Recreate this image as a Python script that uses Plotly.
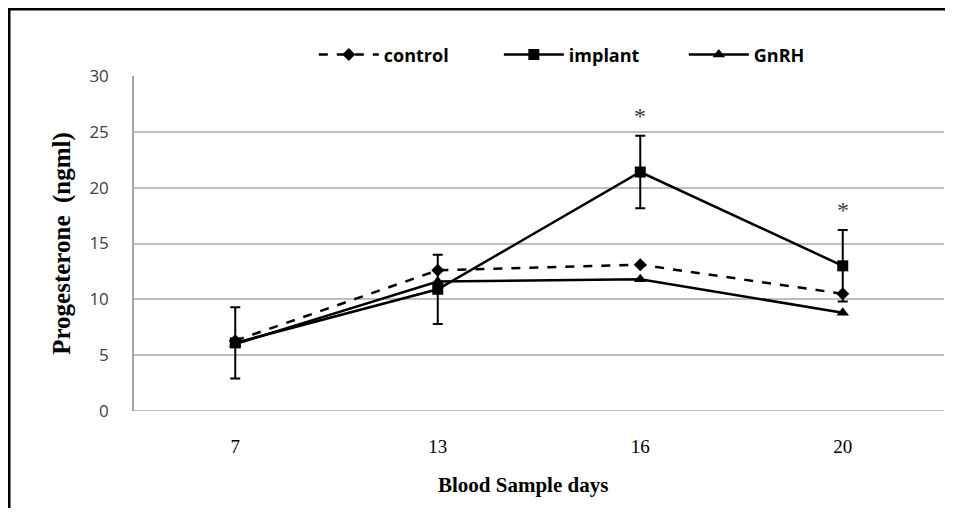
import plotly.graph_objects as go

days = ["7", "13", "16", "20"]
control = [6.3, 12.6, 13.1, 10.5]
implant = [6.1, 10.9, 21.4, 13.0]
implant_err = [3.2, 3.1, 3.25, 3.2]
gnrh = [6.0, 11.6, 11.8, 8.8]
sig_days = ["16", "20"]
y_ticks = [0, 5, 10, 15, 20, 25, 30]

fig = go.Figure()
fig.add_trace(go.Scatter(
    x=days, y=control, name="control", mode="lines+markers",
    line=dict(color="black", width=2.5, dash="dash"),
    marker=dict(symbol="diamond", size=10, color="black"),
))
fig.add_trace(go.Scatter(
    x=days, y=implant, name="implant", mode="lines+markers",
    line=dict(color="black", width=2.5),
    marker=dict(symbol="square", size=11, color="black"),
    error_y=dict(type="data", array=implant_err, visible=True,
                 color="black", thickness=2, width=5),
))
fig.add_trace(go.Scatter(
    x=days, y=gnrh, name="GnRH", mode="lines+markers",
    line=dict(color="black", width=2.5),
    marker=dict(symbol="triangle-up", size=11, color="black"),
))

for d in sig_days:
    i = days.index(d)
    fig.add_annotation(x=i, y=implant[i] + implant_err[i], xref="x", yref="y",
                       text="*", showarrow=False, yshift=20,
                       font=dict(family="Liberation Serif", size=24, color="#404040"))

# x-axis title (slightly left of centre, as in the reference)
fig.add_annotation(x=0.48, y=-0.222, xref="paper", yref="paper",
                   text="<b>Blood Sample days</b>", showarrow=False,
                   xanchor="center", yanchor="middle",
                   font=dict(family="Liberation Serif", size=21, color="black"))

fig.update_layout(
    width=937, height=500,
    margin=dict(l=126, r=1, t=68, b=97, autoexpand=False),
    paper_bgcolor="white", plot_bgcolor="white",
    showlegend=True,
    legend=dict(orientation="h", x=0.222, y=1.063, xanchor="left", yanchor="middle",
                font=dict(family="Open Sans", size=18, color="black", weight="bold"),
                bgcolor="rgba(0,0,0,0)", itemwidth=60,
                entrywidth=110, entrywidthmode="pixels"),
    xaxis=dict(type="category", categoryorder="array", categoryarray=days,
               range=[-0.5, 3.5], showgrid=False, zeroline=False,
               showline=False, ticks="",
               tickfont=dict(family="Liberation Serif", size=19, color="black"),
               ticklabelstandoff=22),
    yaxis=dict(range=[0, 30], tickvals=y_ticks, showgrid=True,
               gridcolor="#BFBFBF", gridwidth=1.5, zeroline=False,
               showline=True, linecolor="#A6A6A6", linewidth=1.5, ticks="",
               tickfont=dict(family="Open Sans", size=17, color="#404040"),
               ticklabelstandoff=20,
               title=dict(text="Progesterone  (ngml)",
                          font=dict(family="Liberation Serif", size=25, color="black", weight="bold"),
                          standoff=12)),
)

# bottom axis line at 0
fig.add_shape(type="line", xref="paper", yref="y", x0=0, x1=1, y0=0, y1=0,
              line=dict(color="#A6A6A6", width=1.5), layer="below")

# outer chart border (only top and left edges are visible in the reference)
fig.add_shape(type="line", xref="paper", yref="paper",
              x0=-0.1543, x1=1.05, y0=1.200, y1=1.200,
              line=dict(color="black", width=3))
fig.add_shape(type="line", xref="paper", yref="paper",
              x0=-0.1543, x1=-0.1543, y0=-0.4, y1=1.2045,
              line=dict(color="black", width=3))

fig.write_html("out.html")
